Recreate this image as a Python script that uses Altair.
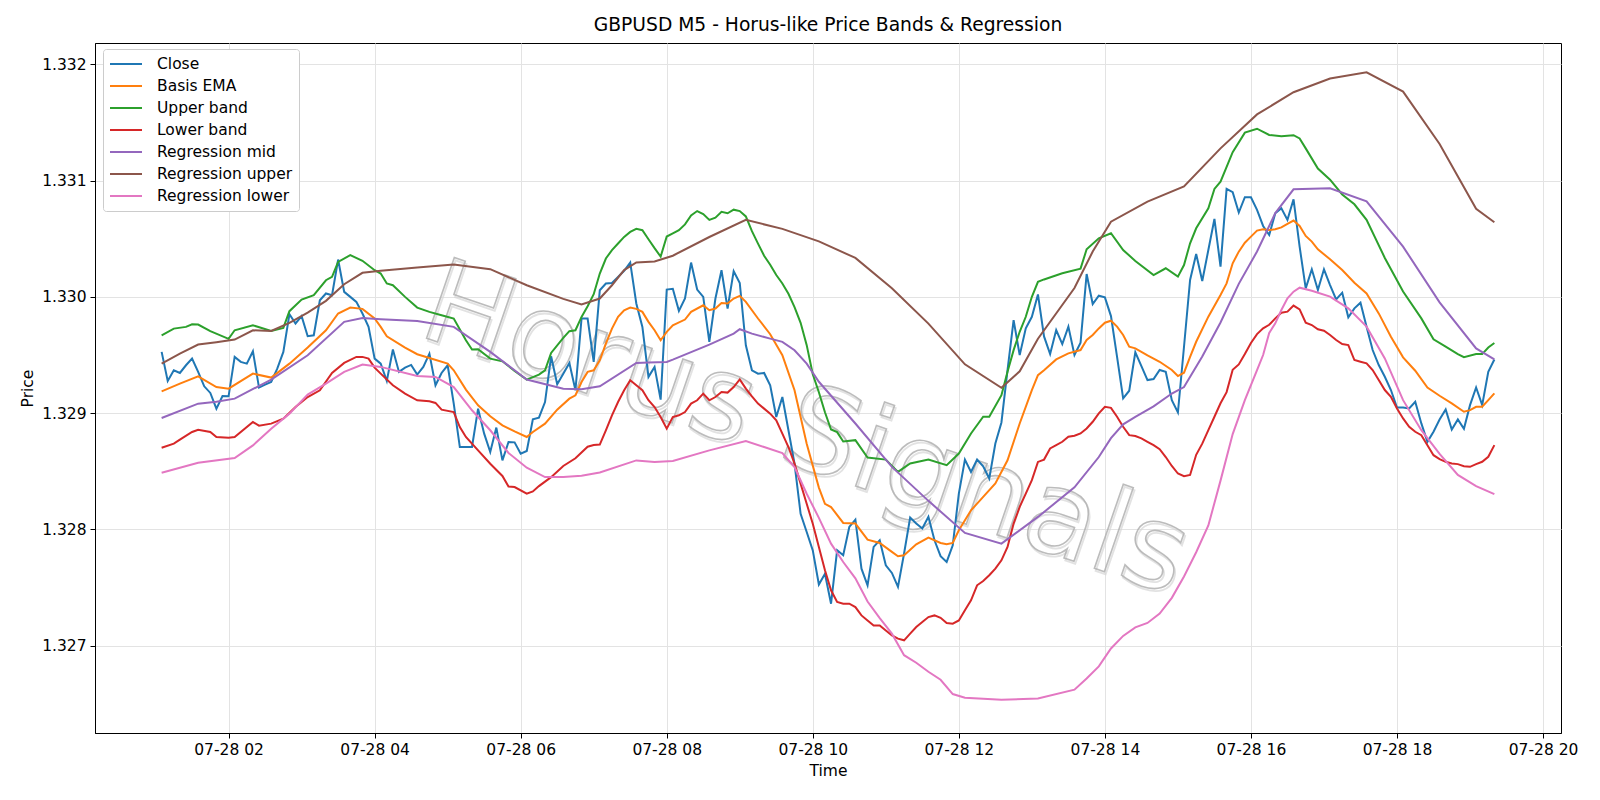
import altair as alt
import pandas as pd

START = pd.Timestamp("2025-07-28 01:05:00")
STEP_MIN = 5

CLOSE = [
    1.329527, 1.329277, 1.329369, 1.329346, 1.329412, 1.329469, 1.329355, 1.329231, 1.329174, 1.329039,
    1.329148, 1.329145, 1.329484, 1.329441, 1.329426, 1.329532, 1.329220, 1.329246, 1.329268, 1.329383,
    1.329527, 1.329851, 1.329771, 1.329834, 1.329662, 1.329670, 1.329971, 1.330029, 1.330014, 1.330321,
    1.330043, 1.330000, 1.329957, 1.329857, 1.329742, 1.329469, 1.329426, 1.329277, 1.329547, 1.329355,
    1.329392, 1.329415, 1.329332, 1.329398, 1.329512, 1.329240, 1.329346, 1.329412, 1.329082, 1.328709,
    1.328709, 1.328709, 1.329039, 1.328824, 1.328666, 1.328876, 1.328594, 1.328752, 1.328749, 1.328652,
    1.328675, 1.328947, 1.328962, 1.329096, 1.329489, 1.329248, 1.329340, 1.329432, 1.329197, 1.329814,
    1.329814, 1.329441, 1.330057, 1.330115, 1.330120, 1.330172, 1.330224, 1.330295, 1.329943, 1.329742,
    1.329312, 1.329398, 1.329116, 1.330063, 1.330069, 1.329880, 1.329986, 1.330295, 1.330063, 1.330000,
    1.329613, 1.329986, 1.330229, 1.329900, 1.330221, 1.330120, 1.329584, 1.329369, 1.329340, 1.329346,
    1.329240, 1.328967, 1.329139, 1.328853, 1.328566, 1.328135, 1.327978, 1.327820, 1.327527, 1.327619,
    1.327362, 1.327821, 1.327778, 1.328022, 1.328085, 1.327663, 1.327520, 1.327850, 1.327907, 1.327692,
    1.327626, 1.327506, 1.327793, 1.328103, 1.328051, 1.328008, 1.328109, 1.327907, 1.327770, 1.327721,
    1.327864, 1.328309, 1.328601, 1.328495, 1.328601, 1.328544, 1.328438, 1.328739, 1.328920, 1.329370,
    1.329800, 1.329499, 1.329729, 1.329829, 1.330021, 1.329660, 1.329508, 1.329715, 1.329594, 1.329744,
    1.329500, 1.329606, 1.330197, 1.329939, 1.330010, 1.329996, 1.329835, 1.329485, 1.329127, 1.329193,
    1.329523, 1.329405, 1.329285, 1.329293, 1.329371, 1.329356, 1.329112, 1.329006, 1.329571, 1.330145,
    1.330369, 1.330137, 1.330403, 1.330670, 1.330260, 1.330928, 1.330900, 1.330725, 1.330857, 1.330857,
    1.330748, 1.330610, 1.330532, 1.330719, 1.330762, 1.330662, 1.330839, 1.330432, 1.330073, 1.330237,
    1.330059, 1.330237, 1.330102, 1.329979, 1.330036, 1.329824, 1.329901, 1.329950, 1.329744, 1.329543,
    1.329414, 1.329313, 1.329199, 1.329049, 1.329049, 1.329041, 1.329098, 1.328912, 1.328754, 1.328840,
    1.328946, 1.329032, 1.328860, 1.328946, 1.328866, 1.329069, 1.329221, 1.329069, 1.329356, 1.329462,
]

EMA_I = [0, 3, 6, 9, 11, 15, 18, 21, 24, 27, 29, 31, 33, 35, 36, 37, 40, 42, 44, 47, 48, 50, 52, 54, 56, 58,
         60, 61, 63, 65, 67, 68, 69, 70, 71, 72, 73, 74, 75, 76, 77, 78, 79, 80, 81, 82, 83, 84, 86, 87, 89,
         90, 91, 92, 93, 94, 95, 96, 98, 100, 102, 104, 106, 108, 109, 110, 112, 114, 116, 118, 120, 121,
         122, 124, 126, 128, 129, 130, 131, 133, 135, 137, 139, 141, 143, 144, 145, 147, 149, 151, 152, 153,
         154, 155, 156, 157, 158, 159, 160, 162, 164, 166, 167, 168, 169, 170, 172, 174, 175, 176, 177, 178,
         179, 180, 181, 182, 183, 184, 185, 186, 187, 188, 189, 190, 192, 194, 196, 198, 200, 202, 204, 206,
         208, 210, 212, 214, 215, 216, 217, 218, 219]
EMA_V = [1.329188, 1.329254, 1.329317, 1.329225, 1.329211, 1.329340, 1.329306, 1.329426, 1.329564, 1.329713,
         1.329857, 1.329908, 1.329897, 1.329814, 1.329742, 1.329661, 1.329564, 1.329507, 1.329475, 1.329426,
         1.329369, 1.329203, 1.329068, 1.328973, 1.328896, 1.328844, 1.328795, 1.328838, 1.328910, 1.329030,
         1.329125, 1.329154, 1.329268, 1.329355, 1.329369, 1.329455, 1.329598, 1.329727, 1.329828, 1.329885,
         1.329908, 1.329897, 1.329871, 1.329785, 1.329713, 1.329627, 1.329699, 1.329756, 1.329805, 1.329871,
         1.329928, 1.329885, 1.329900, 1.329948, 1.329943, 1.329986, 1.330009, 1.329957, 1.329814, 1.329679,
         1.329498, 1.329197, 1.328738, 1.328360, 1.328221, 1.328193, 1.328056, 1.328051, 1.327913, 1.327884,
         1.327807, 1.327770, 1.327778, 1.327873, 1.327930, 1.327884, 1.327873, 1.327884, 1.327993, 1.328165,
         1.328280, 1.328395, 1.328595, 1.328911, 1.329198, 1.329327, 1.329370, 1.329462, 1.329514, 1.329543,
         1.329629, 1.329672, 1.329729, 1.329778, 1.329795, 1.329744, 1.329672, 1.329571, 1.329557, 1.329497,
         1.329442, 1.329371, 1.329319, 1.329348, 1.329485, 1.329614, 1.329830, 1.330016, 1.330116, 1.330289,
         1.330389, 1.330466, 1.330518, 1.330570, 1.330581, 1.330575, 1.330581, 1.330598, 1.330627, 1.330656,
         1.330610, 1.330524, 1.330475, 1.330409, 1.330323, 1.330231, 1.330122, 1.330030, 1.329858, 1.329658,
         1.329480, 1.329365, 1.329221, 1.329150, 1.329084, 1.329012, 1.329026, 1.329055, 1.329055, 1.329112,
         1.329170]

UPPER_I = [0, 2, 4, 5, 6, 8, 11, 12, 15, 18, 20, 21, 23, 25, 27, 28, 29, 31, 33, 35, 36, 37, 38, 40, 42, 44,
           46, 48, 50, 51, 52, 54, 56, 58, 60, 62, 63, 64, 66, 67, 68, 69, 70, 71, 72, 73, 74, 75, 76, 77, 78,
           79, 80, 81, 82, 83, 84, 85, 86, 87, 88, 89, 90, 91, 92, 93, 94, 95, 96, 97, 98, 99, 100, 101, 102,
           103, 104, 105, 106, 107, 108, 109, 110, 111, 112, 114, 116, 119, 121, 123, 126, 129, 131, 133, 135,
           136, 138, 139, 140, 141, 142, 143, 144, 145, 148, 151, 152, 154, 156, 158, 160, 163, 165, 167, 168,
           169, 170, 172, 173, 174, 176, 178, 180, 182, 184, 186, 187, 188, 190, 192, 194, 196, 198, 201, 204,
           207, 209, 211, 213, 214, 216, 217, 218, 219]
UPPER_V = [1.329670, 1.329727, 1.329742, 1.329765, 1.329762, 1.329705, 1.329639, 1.329713, 1.329756, 1.329707,
           1.329733, 1.329877, 1.329977, 1.330014, 1.330143, 1.330172, 1.330301, 1.330359, 1.330310, 1.330229,
           1.330201, 1.330115, 1.330100, 1.330000, 1.329908, 1.329871, 1.329842, 1.329814, 1.329627, 1.329547,
           1.329550, 1.329469, 1.329446, 1.329363, 1.329289, 1.329332, 1.329369, 1.329518, 1.329647, 1.329705,
           1.329713, 1.329828, 1.329920, 1.330023, 1.330201, 1.330330, 1.330402, 1.330459, 1.330516, 1.330559,
           1.330585, 1.330573, 1.330496, 1.330419, 1.330346, 1.330519, 1.330546, 1.330573, 1.330623, 1.330700,
           1.330738, 1.330712, 1.330662, 1.330681, 1.330731, 1.330719, 1.330750, 1.330738, 1.330692, 1.330565,
           1.330458, 1.330354, 1.330277, 1.330188, 1.330115, 1.330027, 1.329912, 1.329777, 1.329585, 1.329335,
           1.329180, 1.329008, 1.328860, 1.328837, 1.328756, 1.328768, 1.328619, 1.328601, 1.328495, 1.328567,
           1.328601, 1.328553, 1.328653, 1.328825, 1.328969, 1.328969, 1.329155, 1.329356, 1.329542, 1.329700,
           1.329829, 1.330001, 1.330130, 1.330150, 1.330203, 1.330243, 1.330409, 1.330504, 1.330547, 1.330403,
           1.330309, 1.330188, 1.330246, 1.330174, 1.330274, 1.330461, 1.330590, 1.330762, 1.330928, 1.330991,
           1.331244, 1.331412, 1.331446, 1.331392, 1.331381, 1.331390, 1.331362, 1.331277, 1.331104, 1.331008,
           1.330881, 1.330796, 1.330662, 1.330335, 1.330046, 1.329815, 1.329635, 1.329573, 1.329508, 1.329481,
           1.329508, 1.329508, 1.329565, 1.329604]

LOWER_I = [0, 2, 3, 5, 6, 8, 9, 11, 12, 15, 16, 18, 20, 22, 24, 26, 28, 30, 32, 33, 34, 35, 36, 38, 40, 42,
           44, 45, 46, 48, 49, 50, 52, 54, 56, 57, 58, 60, 61, 62, 64, 66, 68, 70, 71] + list(range(72, 220))
LOWER_V = [1.328703, 1.328738, 1.328772, 1.328838, 1.328858, 1.328838, 1.328795, 1.328789, 1.328795, 1.328924,
           1.328893, 1.328910, 1.328953, 1.329053, 1.329139, 1.329197, 1.329346, 1.329432, 1.329484, 1.329484,
           1.329469, 1.329392, 1.329340, 1.329240, 1.329168, 1.329111, 1.329102, 1.329088, 1.329030, 1.329010,
           1.328881, 1.328795, 1.328680, 1.328565, 1.328460, 1.328370, 1.328365, 1.328308, 1.328327, 1.328373,
           1.328450, 1.328546, 1.328612, 1.328712, 1.328727,
           1.328730, 1.328853, 1.328982, 1.329096, 1.329197, 1.329283, 1.329240, 1.329197, 1.329111, 1.329053,
           1.328967, 1.328867, 1.328967, 1.328982, 1.329010, 1.329082, 1.329111, 1.329168, 1.329111, 1.329139,
           1.329182, 1.329177, 1.329225, 1.329291, 1.329211, 1.329145, 1.329082, 1.329039, 1.328996, 1.328939,
           1.328824, 1.328709, 1.328566, 1.328394, 1.328221, 1.328049, 1.327850, 1.327649, 1.327477, 1.327377,
           1.327362, 1.327362, 1.327333, 1.327261, 1.327218, 1.327175, 1.327175, 1.327132, 1.327090, 1.327061,
           1.327047, 1.327104, 1.327161, 1.327204, 1.327247, 1.327261, 1.327241, 1.327196, 1.327190, 1.327218,
           1.327305, 1.327391, 1.327520, 1.327557, 1.327606, 1.327663, 1.327735, 1.327850, 1.328051, 1.328194,
           1.328309, 1.328424, 1.328581, 1.328601, 1.328697, 1.328725, 1.328754, 1.328797, 1.328806, 1.328826,
           1.328869, 1.328926, 1.328998, 1.329055, 1.329046, 1.328969, 1.328883, 1.328811, 1.328803, 1.328783,
           1.328754, 1.328725, 1.328690, 1.328623, 1.328546, 1.328481, 1.328458, 1.328469, 1.328642, 1.328738,
           1.328854, 1.328969, 1.329085, 1.329181, 1.329373, 1.329419, 1.329508, 1.329604, 1.329680, 1.329730,
           1.329760, 1.329815, 1.329864, 1.329873, 1.329925, 1.329893, 1.329778, 1.329758, 1.329721, 1.329709,
           1.329672, 1.329629, 1.329594, 1.329586, 1.329457, 1.329442, 1.329428, 1.329371, 1.329285, 1.329199,
           1.329141, 1.329041, 1.328955, 1.328883, 1.328840, 1.328811, 1.328725, 1.328639, 1.328605, 1.328582,
           1.328567, 1.328562, 1.328544, 1.328539, 1.328562, 1.328582, 1.328625, 1.328725]

REG_MID_I = [0, 6, 9, 12, 18, 24, 30, 33, 36, 42, 48, 54, 60, 66, 69, 72, 78, 80, 83, 84, 90, 94, 95, 97, 100,
             102, 104, 106, 108, 114, 120, 126, 132, 138, 144, 150, 154, 156, 158, 160, 163, 166, 168, 171, 174,
             177, 180, 183, 186, 192, 198, 204, 210, 216, 219]
REG_MID_V = [1.328959, 1.329082, 1.329099, 1.329125, 1.329289, 1.329498, 1.329785, 1.329818, 1.329808, 1.329793,
             1.329742, 1.329527, 1.329289, 1.329211, 1.329205, 1.329231, 1.329432, 1.329435, 1.329441, 1.329461,
             1.329590, 1.329684, 1.329722, 1.329684, 1.329641, 1.329613, 1.329541, 1.329426, 1.329270, 1.328911,
             1.328538, 1.328246, 1.327970, 1.327878, 1.328108, 1.328362, 1.328623, 1.328785, 1.328904, 1.328969,
             1.329058, 1.329169, 1.329225, 1.329488, 1.329780, 1.330112, 1.330390, 1.330720, 1.330925, 1.330934,
             1.330822, 1.330432, 1.329953, 1.329557, 1.329462]

REG_UP_I = [0, 3, 6, 9, 12, 15, 18, 21, 24, 27, 30, 33, 36, 42, 48, 54, 60, 66, 69, 72, 74, 76, 78, 81, 84, 90,
            96, 102, 108, 114, 120, 126, 132, 138, 141, 144, 150, 153, 156, 162, 168, 174, 180, 186, 192, 198,
            204, 210, 216, 219]
REG_UP_V = [1.329426, 1.329512, 1.329590, 1.329610, 1.329633, 1.329713, 1.329707, 1.329776, 1.329865, 1.329966,
            1.330109, 1.330207, 1.330224, 1.330252, 1.330278, 1.330238, 1.330100, 1.329983, 1.329935, 1.329986,
            1.330100, 1.330230, 1.330296, 1.330304, 1.330354, 1.330515, 1.330662, 1.330585, 1.330477, 1.330335,
            1.330075, 1.329770, 1.329420, 1.329218, 1.329360, 1.329640, 1.330076, 1.330390, 1.330647, 1.330819,
            1.330950, 1.331277, 1.331569, 1.331760, 1.331877, 1.331931, 1.331765, 1.331315, 1.330758, 1.330642]

REG_LO_I = [0, 6, 12, 15, 18, 21, 24, 27, 30, 33, 36, 42, 45, 48, 51, 54, 57, 60, 63, 66, 69, 72, 78, 81, 84,
            90, 96, 99, 102, 104, 106, 108, 110, 112, 114, 116, 118, 120, 122, 124, 126, 128, 130, 132, 138,
            144, 150, 152, 154, 156, 158, 160, 162, 164, 166, 168, 170, 172, 174, 176, 178, 180, 181, 182, 183,
            184, 185, 186, 187, 189, 192, 195, 198, 201, 204, 207, 210, 213, 216, 219]
REG_LO_V = [1.328488, 1.328574, 1.328614, 1.328723, 1.328867, 1.328996, 1.329160, 1.329254, 1.329355, 1.329418,
            1.329398, 1.329320, 1.329312, 1.329225, 1.329025, 1.328853, 1.328658, 1.328531, 1.328451, 1.328451,
            1.328462, 1.328490, 1.328594, 1.328580, 1.328589, 1.328680, 1.328761, 1.328709, 1.328657, 1.328537,
            1.328307, 1.328100, 1.327878, 1.327720, 1.327580, 1.327381, 1.327238, 1.327104, 1.326919, 1.326854,
            1.326777, 1.326708, 1.326585, 1.326554, 1.326535, 1.326546, 1.326623, 1.326719, 1.326823, 1.326977,
            1.327085, 1.327158, 1.327196, 1.327277, 1.327412, 1.327596, 1.327804, 1.328035, 1.328420, 1.328820,
            1.329112, 1.329371, 1.329500, 1.329690, 1.329772, 1.329887, 1.329987, 1.330045, 1.330079, 1.330053,
            1.330002, 1.329901, 1.329744, 1.329471, 1.329112, 1.328854, 1.328650, 1.328469, 1.328373, 1.328304]

NAMES = ["Close", "Basis EMA", "Upper band", "Lower band", "Regression mid", "Regression upper", "Regression lower"]
COLORS = ["#1f77b4", "#ff7f0e", "#2ca02c", "#d62728", "#9467bd", "#8c564b", "#e377c2"]
SERIES = [
    (list(range(len(CLOSE))), CLOSE),
    (EMA_I, EMA_V),
    (UPPER_I, UPPER_V),
    (LOWER_I, LOWER_V),
    (REG_MID_I, REG_MID_V),
    (REG_UP_I, REG_UP_V),
    (REG_LO_I, REG_LO_V),
]

rows = []
for name, (idx, vals) in zip(NAMES, SERIES):
    for i, v in zip(idx, vals):
        t = START + pd.Timedelta(minutes=STEP_MIN * i)
        rows.append({"series": name, "time": t.strftime("%Y-%m-%dT%H:%M:%SZ"), "price": v})
df = pd.DataFrame(rows)

WATERMARK = pd.DataFrame([{"time": "2025-07-28T09:54:00Z", "price": 1.32884, "text": "Horus Signals"}])

FONT = "DejaVu Sans"
FS = 15.5


def dt(h, m=0, s=0):
    return alt.DateTime(year=2025, month=7, date=28, hours=h, minutes=m, seconds=s, utc=True)


x_enc = alt.X(
    "time:T",
    scale=alt.Scale(type="utc", domain=[dt(0, 10, 15), dt(20, 14, 45)], nice=False),
    axis=alt.Axis(title="Time", format="%m-%d %H", values=[dt(h) for h in range(2, 21, 2)]),
)
y_enc = alt.Y(
    "price:Q",
    scale=alt.Scale(domain=[1.32625, 1.332183], nice=False, zero=False),
    axis=alt.Axis(title="Price", values=[1.327, 1.328, 1.329, 1.330, 1.331, 1.332], format=".3f"),
)
color_enc = alt.Color(
    "series:N",
    scale=alt.Scale(domain=NAMES, range=COLORS),
    legend=alt.Legend(
        title=None,
        orient="none",
        legendX=8,
        legendY=6,
        symbolType="M-1,0L3,0",
        symbolSize=256,
        symbolStrokeWidth=2,
        labelFontSize=FS,
        labelFont=FONT,
        labelColor="black",
        labelOffset=30,
        rowPadding=4,
        padding=6,
        fillColor="white",
        strokeColor="#cccccc",
        cornerRadius=3,
    ),
)

wm_shadow = alt.Chart(WATERMARK).mark_text(
    angle=19, fontSize=117, font=FONT, align="center", baseline="middle",
    dx=2, dy=2, fillOpacity=0, stroke="#d6d6d6", strokeWidth=1.8, strokeOpacity=0.7,
).encode(x="time:T", y="price:Q", text="text:N")

wm = alt.Chart(WATERMARK).mark_text(
    angle=19, fontSize=117, font=FONT, align="center", baseline="middle",
    fillOpacity=0, stroke="#b0b0b0", strokeWidth=1.6, strokeOpacity=0.85,
).encode(x="time:T", y="price:Q", text="text:N")

base = alt.Chart(df).mark_line(strokeWidth=2).encode(x=x_enc, y=y_enc, color=color_enc)
lines = [base.transform_filter(alt.datum.series == n) for n in NAMES]

chart = alt.layer(wm_shadow, wm, *lines).properties(
    width=1466,
    height=690,
    autosize=alt.AutoSizeParams(type="none"),
    padding={"left": 95, "right": 39, "top": 43, "bottom": 67},
    title=alt.TitleParams("GBPUSD M5 - Horus-like Price Bands & Regression", fontSize=18.7, font=FONT,
                          fontWeight="normal", anchor="middle", offset=8, color="black"),
).configure_view(
    stroke="black", strokeWidth=1
).configure_axis(
    labelFont=FONT, labelFontSize=FS, labelColor="black", titleFont=FONT, titleFontSize=FS,
    titleFontWeight="normal", titleColor="black", domainColor="black", tickColor="black",
    tickSize=5, labelPadding=4, titlePadding=6, gridColor="#e3e3e3", gridWidth=1,
)

chart.save("out.html", embed_options={"renderer": "svg", "actions": False})
